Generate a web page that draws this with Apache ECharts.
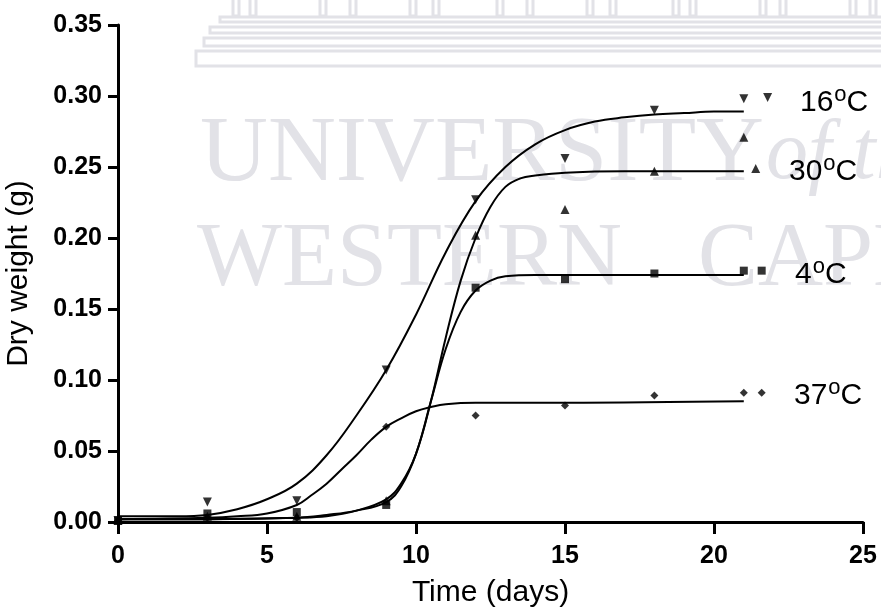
<!DOCTYPE html>
<html>
<head>
<meta charset="utf-8">
<script src="https://cdn.jsdelivr.net/npm/echarts/dist/echarts.min.js"></script>
<style>
  html, body { margin: 0; padding: 0; background: #fff; }
  #chart { width: 881px; height: 611px; }
</style>
</head>
<body>
<div id="chart"></div>
<script>
// measured points [day, dry weight g]
const pts16 = [[0, 0.001], [3, 0.014], [6, 0.015], [9, 0.107], [12, 0.227], [15, 0.256], [18, 0.290], [21, 0.298], [21.8, 0.299]];
const pts30 = [[0, 0.001], [3, 0.004], [6, 0.004], [9, 0.015], [12, 0.202], [15, 0.220], [18, 0.247], [21, 0.271], [21.4, 0.249]];
const pts4 = [[0, 0.001], [3, 0.006], [6, 0.007], [9, 0.012], [12, 0.165], [15, 0.171], [18, 0.175], [21, 0.177], [21.6, 0.177]];
const pts37 = [[0, 0.001], [3, 0.003], [6, 0.003], [9, 0.067], [12, 0.075], [15, 0.082], [18, 0.089], [21, 0.091], [21.6, 0.091]];

// fitted curves
const fit16 = [[0, 0.004], [2, 0.004], [3, 0.005], [4, 0.009], [5, 0.016], [6, 0.027], [7, 0.047], [8, 0.075], [9, 0.107],
  [10, 0.146], [11, 0.190], [12, 0.226], [13, 0.250], [14, 0.266], [15, 0.276], [16, 0.282], [17, 0.285], [18, 0.287],
  [19, 0.288], [20, 0.289], [21, 0.289]];
const fit30 = [[0, 0.002], [3, 0.002], [6, 0.003], [7, 0.004], [8, 0.008], [9, 0.016], [9.5, 0.027], [10, 0.048],
  [10.5, 0.085], [11, 0.130], [11.5, 0.170], [12, 0.200], [12.5, 0.222], [13, 0.236], [13.5, 0.242], [14, 0.244],
  [15, 0.246], [17, 0.247], [21, 0.247]];
const fit4 = [[0, 0.002], [3, 0.002], [6, 0.003], [7, 0.005], [8, 0.008], [9, 0.014], [9.5, 0.025], [10, 0.048],
  [10.5, 0.085], [11, 0.122], [11.5, 0.148], [12, 0.163], [12.5, 0.170], [13, 0.173], [14, 0.174], [21, 0.174]];
const fit37 = [[0, 0.002], [3, 0.003], [4, 0.004], [5, 0.006], [6, 0.012], [6.5, 0.019], [7, 0.027], [7.5, 0.037],
  [8, 0.047], [8.5, 0.058], [9, 0.067], [9.5, 0.073], [10, 0.078], [10.5, 0.081], [11, 0.083], [12, 0.084],
  [15, 0.084], [21, 0.085]];

const seriesNames = ["16", "30", "4", "37"];
const labelMidY = [103, 172, 275, 396];
const labelLefts = [800, 789, 795, 794];

const chart = echarts.init(document.getElementById("chart"));

const wm = "#e2e2e7";
const buildingCols = [233, 250, 320, 350, 410, 433, 497, 527, 587, 610, 673, 690, 760, 780, 850, 870];
const labelFont = "'Liberation Sans', Arial";

const graphics = [
  { type: "text", left: 200, top: 108, z: -10, style: { text: "UNIVERSITY", font: "94px 'Liberation Serif'", fill: wm } },
  { type: "text", left: 766, top: 114, z: -10, style: { text: "of the", font: "italic 84px 'Liberation Serif'", fill: wm } },
  { type: "text", left: 197, top: 216, z: -10, style: { text: "WESTERN", font: "90px 'Liberation Serif'", fill: wm } },
  { type: "text", left: 698, top: 216, z: -10, style: { text: "CAPE", font: "90px 'Liberation Serif'", fill: wm } },
  { type: "rect", z: -10, shape: { x: 196, y: 51, width: 720, height: 15 }, style: { fill: null, stroke: wm, lineWidth: 3 } },
  { type: "rect", z: -10, shape: { x: 204, y: 38, width: 720, height: 8 }, style: { fill: null, stroke: wm, lineWidth: 3 } },
  { type: "rect", z: -10, shape: { x: 210, y: 27, width: 720, height: 6 }, style: { fill: null, stroke: wm, lineWidth: 3 } },
  { type: "rect", z: -10, shape: { x: 220, y: 17, width: 720, height: 5 }, style: { fill: null, stroke: wm, lineWidth: 3 } }
];
buildingCols.forEach(x => {
  graphics.push({ type: "rect", z: -10, shape: { x: x, y: -4, width: 6, height: 20 }, style: { fill: null, stroke: wm, lineWidth: 3 } });
});

// temperature labels: number, raised "o", then "C"
seriesNames.forEach((n, i) => {
  const x0 = labelLefts[i];
  const xo = x0 + n.length * 0.556 * 30 + 1;
  const xc = xo + 0.556 * 22;
  const y = labelMidY[i];
  graphics.push({ type: "text", z: 5, style: { x: x0, y: y, text: n, fontSize: 30, fontFamily: labelFont, fill: "#000", verticalAlign: "middle" } });
  graphics.push({ type: "text", z: 5, style: { x: xo, y: y - 8.4, text: "o", fontSize: 22, fontFamily: labelFont, fill: "#000", verticalAlign: "middle" } });
  graphics.push({ type: "text", z: 5, style: { x: xc, y: y, text: "C", fontSize: 30, fontFamily: labelFont, fill: "#000", verticalAlign: "middle" } });
});

function fitLine(data) {
  return { type: "line", data: data, smooth: 0.4, showSymbol: false, silent: true,
    lineStyle: { color: "#000", width: 2 }, z: 3 };
}
function marks(data, symbol, size, rotate) {
  return { type: "scatter", data: data, symbol: symbol, symbolSize: size, symbolRotate: rotate || 0,
    itemStyle: { color: "#000" }, z: 4 };
}

chart.setOption({
  backgroundColor: "#fff",
  animation: false,
  graphic: graphics,
  grid: { left: 118, right: 18, top: 25, bottom: 89, outerBoundsMode: "none", containLabel: false },
  xAxis: {
    type: "value", min: 0, max: 25, interval: 5,
    name: "Time (days)", nameLocation: "middle", nameGap: 56,
    nameTextStyle: { fontSize: 30, fontFamily: labelFont, color: "#000" },
    axisLine: { lineStyle: { color: "#000", width: 3 } },
    axisTick: { length: 12, lineStyle: { color: "#000", width: 3 } },
    axisLabel: { margin: 22, fontSize: 25, fontWeight: "bold", fontFamily: labelFont, color: "#000" },
    splitLine: { show: false }
  },
  yAxis: {
    type: "value", min: 0, max: 0.35, interval: 0.05,
    name: "Dry weight (g)", nameLocation: "middle", nameGap: 84,
    nameTextStyle: { fontSize: 30, fontFamily: labelFont, color: "#000" },
    axisLine: { lineStyle: { color: "#000", width: 3 } },
    axisTick: { length: 10, lineStyle: { color: "#000", width: 3 } },
    axisLabel: { margin: 16, fontSize: 25, fontWeight: "bold", fontFamily: labelFont, color: "#000",
      formatter: v => v.toFixed(2) },
    splitLine: { show: false }
  },
  series: [
    fitLine(fit16), fitLine(fit30), fitLine(fit4), fitLine(fit37),
    marks(pts16, "triangle", 9, 180),
    marks(pts30, "triangle", 9, 0),
    marks(pts4, "rect", 8, 0),
    marks(pts37, "diamond", 8, 0)
  ]
});
</script>
</body>
</html>
